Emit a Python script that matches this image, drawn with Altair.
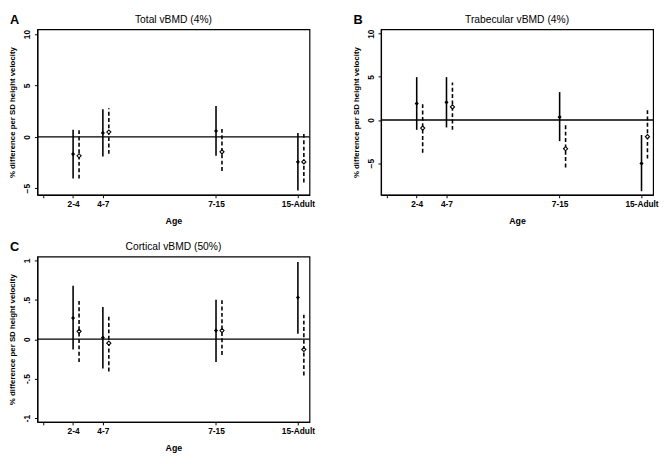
import altair as alt
import pandas as pd

FONT = "Liberation Sans"

ages = ["2-4", "4-7", "7-15", "15-Adult"]
age_pos = [1.0, 2.0, 5.8, 8.55]
tick_pos = [0.0] + age_pos
tick_lab = [""] + ages

# Panel A: Total vBMD (4%)
a_solid_est = [-1.68, 0.38, 0.57, -2.44]
a_solid_lo = [-4.06, -1.90, -1.84, -5.22]
a_solid_hi = [0.69, 2.69, 3.00, 0.38]
a_dash_est = [-1.84, 0.47, -1.46, -2.44]
a_dash_lo = [-4.06, -1.65, -3.32, -4.43]
a_dash_hi = [0.63, 2.78, 0.79, 0.31]

# Panel B: Trabecular vBMD (4%)
b_solid_est = [1.90, 2.05, 0.34, -5.03]
b_solid_lo = [-1.14, -0.86, -2.45, -8.25]
b_solid_hi = [4.97, 4.97, 3.23, -1.74]
b_dash_est = [-0.94, 1.52, -3.33, -1.93]
b_dash_lo = [-3.78, -1.14, -5.49, -4.47]
b_dash_hi = [1.90, 4.36, -0.57, 1.22]

# Panel C: Cortical vBMD (50%)
c_solid_est = [0.27, 0.02, 0.11, 0.53]
c_solid_lo = [-0.13, -0.37, -0.29, 0.07]
c_solid_hi = [0.68, 0.41, 0.50, 0.98]
c_dash_est = [0.10, -0.05, 0.11, -0.13]
c_dash_lo = [-0.29, -0.41, -0.20, -0.46]
c_dash_hi = [0.50, 0.30, 0.50, 0.31]

PW, PH = 278, 169


def make_df(se, sl, sh, de, dl, dh):
    rows = []
    for i, a in enumerate(ages):
        rows.append(dict(age=a, pos=age_pos[i], series="solid", est=se[i], lo=sl[i], hi=sh[i]))
        rows.append(dict(age=a, pos=age_pos[i], series="dashed", est=de[i], lo=dl[i], hi=dh[i]))
    return pd.DataFrame(rows)


x_label_expr = "[" + ",".join("'%s'" % t for t in tick_lab) + "][indexof([" + ",".join(repr(v) for v in tick_pos) + "], datum.value)]"


def panel(df, title, letter, ydomain, yticks, ylabel_expr=None):
    xenc = alt.X(
        "xp:Q",
        scale=alt.Scale(domain=[-0.2, 8.94], nice=False, zero=False),
        axis=alt.Axis(
            values=tick_pos, labelExpr=x_label_expr, title="Age", grid=False,
            labelFont=FONT, labelFontSize=8.5, labelFontWeight="bold", labelColor="black",
            titleFont=FONT, titleFontSize=9, titleFontWeight="bold", titleColor="black",
            tickSize=3, tickColor="black", domainColor="black", domainWidth=1.2,
            labelPadding=2, titlePadding=9, labelOverlap=False, labelFlush=False,
        ),
    )
    yaxis_kw = dict(
        values=yticks, title="% difference per SD height velocity", grid=False,
        labelAngle=270, labelAlign="center", labelBaseline="bottom",
        labelFont=FONT, labelFontSize=8.5, labelFontWeight="bold", labelColor="black",
        titleFont=FONT, titleFontSize=8, titleFontWeight="bold", titleColor="black",
        tickSize=3, tickColor="black", domainColor="black", domainWidth=1.2,
        labelPadding=3, titlePadding=6, labelOverlap=False, labelFlush=False,
    )
    if ylabel_expr:
        yaxis_kw["labelExpr"] = ylabel_expr
    yscale = alt.Scale(domain=ydomain, nice=False, zero=False)
    yaxis = alt.Axis(**yaxis_kw)

    base = alt.Chart(df).transform_calculate(
        xp="datum.pos + (datum.series == 'dashed' ? 0.2 : 0)"
    )
    solid = base.transform_filter("datum.series == 'solid'")
    dashed = base.transform_filter("datum.series == 'dashed'")

    r1 = solid.mark_rule(color="black", strokeWidth=1.6).encode(
        x=xenc, y=alt.Y("lo:Q", scale=yscale, axis=yaxis), y2="hi:Q")
    r2 = dashed.mark_rule(color="black", strokeWidth=1.6, strokeDash=[4, 2.5]).encode(
        x=xenc, y=alt.Y("lo:Q", scale=yscale, axis=yaxis), y2="hi:Q")
    zero = alt.Chart(pd.DataFrame({"zero": [0]})).mark_rule(color="black", strokeWidth=1.3).encode(
        y=alt.Y("zero:Q", scale=yscale, axis=yaxis))
    p1 = solid.mark_point(shape="diamond", filled=True, color="black", size=18, opacity=1).encode(
        x=xenc, y=alt.Y("est:Q", scale=yscale, axis=yaxis))
    p2 = dashed.mark_point(shape="diamond", filled=True, fill="white", stroke="black",
                           strokeWidth=1.1, size=18, opacity=1).encode(
        x=xenc, y=alt.Y("est:Q", scale=yscale, axis=yaxis))
    lab = pd.DataFrame({"letter": [letter], "title": [title]})
    let = alt.Chart(lab).mark_text(
        align="left", baseline="top", font=FONT, fontSize=13, fontWeight="bold", color="black"
    ).encode(x=alt.value(-28), y=alt.value(-15.5), text="letter:N")
    ttl = alt.Chart(lab).mark_text(
        align="center", baseline="top", font=FONT, fontSize=10.5, color="black"
    ).encode(x=alt.value(PW / 2), y=alt.value(-15), text="title:N")

    return alt.layer(zero, r1, r2, p1, p2, let, ttl).properties(width=PW, height=PH)


dfA = make_df(a_solid_est, a_solid_lo, a_solid_hi, a_dash_est, a_dash_lo, a_dash_hi)
dfB = make_df(b_solid_est, b_solid_lo, b_solid_hi, b_dash_est, b_dash_lo, b_dash_hi)
dfC = make_df(c_solid_est, c_solid_lo, c_solid_hi, c_dash_est, c_dash_lo, c_dash_hi)

pA = panel(dfA, "Total vBMD (4%)", "A", [-5.64, 10.45], [-5, 0, 5, 10])
pB = panel(dfB, "Trabecular vBMD (4%)", "B", [-8.67, 10.5], [-5, 0, 5, 10])
pC = panel(dfC, "Cortical vBMD (50%)", "C", [-1.05, 1.05], [-1, -0.5, 0, 0.5, 1],
           ylabel_expr="datum.value == 0 ? '0' : replace(toString(datum.value), '0.', '.')")

chart = alt.vconcat(
    alt.hconcat(pA, pB, spacing=37),
    pC,
    spacing=13,
).properties(
    padding={"left": 0, "top": 0, "right": 0, "bottom": 0},
    background="white",
).configure_view(stroke="black", strokeWidth=1.2)

chart.save("out.html", embed_options={"renderer": "svg", "actions": False})
